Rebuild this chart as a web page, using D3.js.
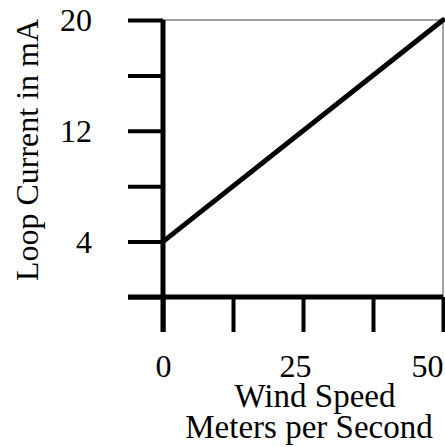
<!DOCTYPE html>
<html>
<head>
<meta charset="utf-8">
<script src="https://cdn.jsdelivr.net/npm/d3@7"></script>
<style>
body { margin: 0; background: #fff; }
svg text { font-family: "Liberation Serif", "Times New Roman", serif; fill: #000; }
</style>
</head>
<body>
<div id="chart"></div>
<script>
// data
var windSpeed = [0, 50];
var loopCurrent = [4, 20];
var xTicks = [0, 12.5, 25, 37.5, 50];
var yTicks = [0, 4, 8, 12, 16, 20];
var xLabels = [0, 25, 50];
var yLabels = [4, 12, 20];

var width = 445, height = 447;
// plot box (note: "top" is taken by window.top, so use other names)
var plotLeft = 163, plotRight = 443, plotTop = 20, plotBottom = 297;
var tickLen = 35;

var svg = d3.select("#chart").append("svg")
	.attr("width", width)
	.attr("height", height);

var x = d3.scaleLinear().domain([0, 50]).range([plotLeft, plotRight]);
var y = d3.scaleLinear().domain([0, 20]).range([plotBottom, plotTop]);

// thin frame on top and right
svg.append("line")
	.attr("x1", plotLeft).attr("y1", plotTop)
	.attr("x2", plotRight).attr("y2", plotTop)
	.attr("stroke", "#444").attr("stroke-width", 1.2);
svg.append("line")
	.attr("x1", plotRight).attr("y1", plotTop)
	.attr("x2", plotRight).attr("y2", plotBottom)
	.attr("stroke", "#666").attr("stroke-width", 1.2);

// y axis
var yAxis = svg.append("g")
	.attr("transform", "translate(" + plotLeft + ",0)")
	.call(d3.axisLeft(y).tickValues(yTicks).tickSize(tickLen).tickSizeOuter(0)
		.tickFormat(function(d) { return yLabels.indexOf(d) >= 0 ? d : ""; }));
yAxis.select(".domain").remove();
yAxis.selectAll(".tick line").attr("stroke", "#000").attr("stroke-width", 4);
yAxis.selectAll(".tick text")
	.attr("x", -71)
	.attr("dy", "0.34em")
	.style("font-size", "32px");

// x axis
var xAxis = svg.append("g")
	.attr("transform", "translate(0," + plotBottom + ")")
	.call(d3.axisBottom(x).tickValues(xTicks).tickSize(tickLen).tickSizeOuter(0)
		.tickFormat(function(d) { return xLabels.indexOf(d) >= 0 ? d : ""; }));
xAxis.select(".domain").remove();
xAxis.selectAll(".tick line").attr("stroke", "#000").attr("stroke-width", 4);
xAxis.selectAll(".tick text")
	.attr("y", 80)
	.attr("dy", 0)
	.style("font-size", "32px");
xAxis.selectAll(".tick text")
	.filter(function(d) { return d == 25; })
	.attr("dx", -8);
xAxis.selectAll(".tick text")
	.filter(function(d) { return d == 50; })
	.attr("text-anchor", "end")
	.attr("dx", 0);

// thick axis lines, drawn over the ticks
svg.append("line")
	.attr("x1", plotLeft).attr("y1", plotTop)
	.attr("x2", plotLeft).attr("y2", plotBottom + tickLen)
	.attr("stroke", "#000").attr("stroke-width", 5);
svg.append("line")
	.attr("x1", plotLeft - tickLen).attr("y1", plotBottom)
	.attr("x2", plotRight).attr("y2", plotBottom)
	.attr("stroke", "#000").attr("stroke-width", 5);

// the transfer line
var line = d3.line()
	.x(function(d, i) { return x(windSpeed[i]); })
	.y(function(d) { return y(d); });
svg.append("path")
	.datum(loopCurrent)
	.attr("d", line)
	.attr("fill", "none")
	.attr("stroke", "#000")
	.attr("stroke-width", 5)
	.attr("stroke-linecap", "round");

// axis titles
svg.append("text")
	.attr("x", 315).attr("y", 407)
	.attr("text-anchor", "middle")
	.style("font-size", "33px")
	.text("Wind Speed");
svg.append("text")
	.attr("x", 309).attr("y", 438)
	.attr("text-anchor", "middle")
	.style("font-size", "33px")
	.text("Meters per Second");
svg.append("text")
	.attr("transform", "translate(38,150) rotate(-90)")
	.attr("text-anchor", "middle")
	.style("font-size", "32px")
	.text("Loop Current in mA");
</script>
</body>
</html>
